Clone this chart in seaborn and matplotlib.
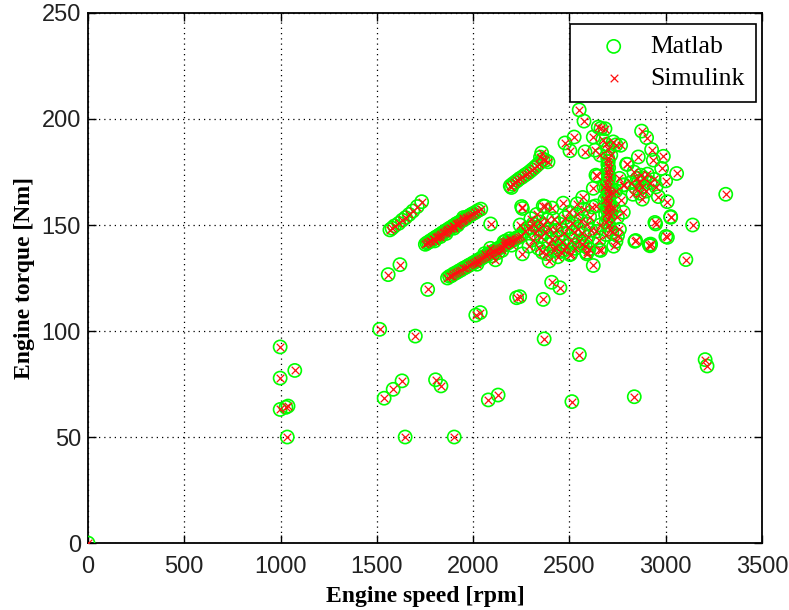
import numpy as np
import pandas as pd
import matplotlib
matplotlib.use("Agg")
import matplotlib.pyplot as plt
import seaborn as sns

# ---------------- data ----------------
# isolated / sparse operating points
sparse_speed = [0, 998, 998, 1074, 998, 1028, 1039, 1035, 1515, 1700, 1538, 1585,
                1631, 1647, 1805, 1833, 1902, 2014, 2037, 2079, 2130, 2369, 2513,
                2552, 2837, 3205, 3215, 1559, 1620, 1764, 2408, 2451, 2226, 2242,
                2364, 3312, 3105, 3140, 2919, 2091, 2116]
sparse_torque = [0, 92.5, 77.8, 81.4, 63.0, 64.0, 64.6, 50.0, 100.8, 97.6, 68.3, 72.5,
                 76.5, 50.0, 77.0, 74.1, 50.0, 107.5, 108.7, 67.5, 69.8, 96.3, 66.7,
                 88.9, 69.0, 86.5, 83.5, 126.6, 131.3, 119.6, 123.0, 120.4, 115.7, 116.2,
                 114.9, 164.5, 133.7, 150.0, 140.2, 150.5, 133.6]

# short streak around 1600 rpm
streak_a_speed = [1568, 1579, 1592, 1614, 1632, 1649, 1668, 1687, 1710, 1733]
streak_a_torque = [147.7, 148.5, 149.6, 150.8, 152.3, 153.5, 155.0, 156.6, 158.7, 161.0]

# dense streak 1750-2040 rpm
streak_b_speed = [1752, 1760, 1768, 1775, 1782, 1790, 1797, 1805, 1812, 1820, 1828, 1835,
                  1842, 1850, 1857, 1865, 1872, 1880, 1887, 1895, 1902, 1910, 1918, 1925,
                  1933, 1940, 1948, 1955, 1963, 1970, 1980, 1990, 2000, 2012, 2025, 2040,
                  1800, 1860, 1900, 1950, 1830, 1920]
streak_b_torque = [140.9, 141.5, 141.8, 142.4, 142.6, 143.3, 143.5, 144.2, 144.4, 145.0, 145.5, 145.7,
                   146.4, 146.6, 147.3, 147.5, 148.1, 148.6, 148.8, 149.5, 149.7, 150.4, 150.8, 151.0,
                   151.6, 152.0, 152.3, 152.9, 153.1, 153.8, 154.3, 154.9, 155.4, 156.0, 156.8, 157.5,
                   142.5, 146.0, 148.5, 153.5, 144.5, 150.0]

# dense streak 1870-2250 rpm
streak_c_speed = [1867, 1878, 1888, 1898, 1908, 1918, 1928, 1938, 1948, 1958, 1968, 1978,
                  1988, 1998, 2008, 2018, 2028, 2038, 2048, 2058, 2068, 2078, 2088, 2098,
                  2108, 2118, 2128, 2138, 2148, 2158, 2168, 2178, 2188, 2198, 2208, 2218,
                  2228, 2238, 2248, 2100, 2130, 2150, 2170, 2190, 2200, 2090, 2160, 2060, 2020]
streak_c_torque = [125.0, 125.8, 126.1, 126.9, 127.3, 127.8, 128.4, 128.8, 129.5, 129.9, 130.4, 131.0,
                   131.4, 132.0, 132.5, 133.0, 133.6, 134.0, 134.6, 135.1, 135.6, 136.2, 136.6, 137.3,
                   137.7, 138.2, 138.8, 139.3, 139.8, 140.4, 140.8, 141.4, 141.9, 142.5, 142.9, 143.5,
                   144.0, 144.4, 145.0, 135.5, 137.0, 138.0, 142.5, 143.5, 140.5, 139.0, 142.0, 136.5, 131.5]

# streak 2190-2390 rpm, 168-184 Nm
streak_d_speed = [2193, 2205, 2218, 2230, 2242, 2255, 2268, 2280, 2292, 2305, 2318, 2330,
                  2342, 2356, 2362, 2375, 2389, 2350, 2199]
streak_d_torque = [168.4, 169.3, 170.2, 171.0, 171.9, 172.6, 173.5, 174.2, 175.0, 176.0, 177.0, 178.0,
                   179.0, 184.0, 181.0, 180.5, 179.8, 182.0, 167.7]

# dense cloud 2240-2620 rpm, 133-160 Nm
cloud_speed = [2244, 2256, 2372, 2256, 2360, 2507, 2590, 2270, 2285, 2300, 2312, 2320,
               2335, 2345, 2355, 2362, 2375, 2385, 2392, 2400, 2410, 2418, 2425, 2432,
               2440, 2448, 2455, 2462, 2470, 2478, 2485, 2492, 2500, 2508, 2515, 2522,
               2530, 2538, 2545, 2552, 2560, 2568, 2575, 2582, 2590, 2598, 2605, 2612,
               2620, 2290, 2310, 2340, 2380, 2420, 2395, 2440, 2470, 2300, 2330, 2252,
               2364, 2468, 2410, 2540, 2503]
cloud_torque = [150.0, 157.8, 158.8, 136.4, 137.2, 136.4, 136.4, 147.0, 148.5, 149.0, 150.5, 146.0,
                148.0, 151.5, 144.5, 150.0, 146.5, 152.5, 141.0, 148.0, 143.5, 153.0, 139.5, 147.5,
                144.0, 150.5, 137.5, 142.0, 146.0, 153.5, 140.0, 149.0, 156.0, 143.0, 151.0, 146.5,
                139.0, 155.0, 148.0, 142.5, 152.0, 146.0, 157.5, 140.0, 150.5, 144.5, 154.0, 147.5,
                158.5, 140.0, 143.0, 139.0, 136.5, 138.0, 133.0, 135.0, 138.0, 153.0, 155.0, 158.7,
                159.0, 160.3, 158.0, 160.0, 136.0]

# vertical streak near 2700 rpm
streak_v_speed = [2699, 2702, 2700, 2704, 2698, 2702, 2706, 2700, 2696, 2703, 2700, 2706,
                  2698, 2702, 2708, 2700, 2695, 2703, 2710, 2700, 2692, 2705, 2711, 2688,
                  2715, 2685, 2720, 2680, 2690, 2720]
streak_v_torque = [181.6, 180.0, 178.5, 177.0, 175.5, 174.0, 172.5, 171.0, 169.5, 168.0, 166.5, 165.0,
                   163.5, 162.0, 160.5, 159.0, 157.5, 156.0, 154.5, 153.0, 151.5, 150.0, 148.0, 155.0,
                   158.0, 162.0, 165.0, 168.0, 145.5, 146.5]

# upper right scatter 2470-3070 rpm
upper_speed = [2551, 2576, 2650, 2685, 2664, 2624, 2673, 2728, 2766, 2742, 2581, 2633,
               2477, 2525, 2503, 2875, 2901, 2927, 2988, 2797, 2858, 2936, 2979, 3057,
               2638, 2624, 2569, 2780, 2866, 2962, 3008, 3026, 2944, 3001, 2840, 2915,
               2742, 2624, 2567, 2590, 2655, 2700, 2715, 2690, 2660]
upper_torque = [204.3, 199.0, 196.2, 195.4, 195.6, 191.5, 190.2, 189.2, 187.6, 187.8, 184.5, 185.3,
                188.7, 191.5, 185.0, 194.3, 191.2, 185.6, 182.4, 178.7, 182.1, 180.6, 176.7, 174.3,
                173.5, 167.3, 163.0, 168.8, 165.0, 163.4, 161.0, 154.0, 151.2, 144.6, 142.3, 140.7,
                142.3, 130.9, 141.2, 137.1, 138.4, 186.0, 183.0, 188.0, 183.0]

# medium cluster 2750-3050 rpm, 140-178 Nm
cluster_speed = [2801, 2784, 2853, 2870, 2890, 2905, 3000, 2879, 2766, 2749, 2637, 2645,
                 2820, 2835, 2845, 2860, 2875, 2900, 2920, 2940, 2950, 2830, 2760, 2740,
                 2730, 2660, 2640, 2760, 2780, 2654, 2602, 2662, 2844, 2922, 3009, 2948,
                 3026, 2750, 2730]
cluster_torque = [178.6, 169.0, 172.0, 173.5, 172.0, 174.0, 170.8, 162.2, 162.0, 153.6, 159.0, 173.0,
                  170.0, 175.0, 167.5, 170.5, 168.0, 166.0, 170.0, 171.5, 168.0, 164.5, 172.0, 166.0,
                  158.0, 150.0, 147.0, 148.0, 156.0, 142.7, 138.7, 138.0, 142.7, 141.0, 144.2, 150.5,
                  153.6, 145.0, 140.0]

groups = [(sparse_speed, sparse_torque), (streak_a_speed, streak_a_torque),
          (streak_b_speed, streak_b_torque), (streak_c_speed, streak_c_torque),
          (streak_d_speed, streak_d_torque), (cloud_speed, cloud_torque),
          (streak_v_speed, streak_v_torque), (upper_speed, upper_torque),
          (cluster_speed, cluster_torque)]

matlab = pd.DataFrame({
    "speed": np.concatenate([np.asarray(s, float) for s, _ in groups]),
    "torque": np.concatenate([np.asarray(t, float) for _, t in groups]),
})
simulink = matlab.copy()   # the Simulink result coincides with the Matlab one

x_ticks = [0, 500, 1000, 1500, 2000, 2500, 3000, 3500]
y_ticks = [0, 50, 100, 150, 200, 250]

# ---------------- styling ----------------
sns.set_theme(style="white")
plt.rcParams["font.family"] = ["Liberation Serif", "DejaVu Serif"]

fig = plt.figure(figsize=(7.89, 6.10), dpi=100)
ax = fig.add_axes([0.1115, 0.1098, 0.8542, 0.8689])

sns.scatterplot(data=matlab, x="speed", y="torque", ax=ax, marker="o", s=90,
                facecolor="none", edgecolor="#00ff00", linewidth=1.2,
                label="Matlab", zorder=3)
sns.scatterplot(data=simulink, x="speed", y="torque", ax=ax, marker="x", s=30,
                color="#ff1010", linewidth=0.9, label="Simulink", zorder=4)

ax.set_xlim(0, 3500)
ax.set_ylim(0, 250)
ax.set_xticks(x_ticks)
ax.set_yticks(y_ticks)
ax.set_xticklabels([str(v) for v in x_ticks])
ax.set_yticklabels([str(v) for v in y_ticks])
for lab in ax.get_xticklabels() + ax.get_yticklabels():
    lab.set_family(["Liberation Sans", "DejaVu Sans"])

ax.grid(True, color="black", linestyle=(0, (1, 3.2)), linewidth=0.9)
ax.set_axisbelow(True)
for sp in ax.spines.values():
    sp.set_color("black")
    sp.set_linewidth(1.3)
    sp.set_visible(True)

ax.tick_params(axis="both", which="major", direction="in", length=6, width=1.0,
               top=True, right=True, bottom=True, left=True, labelsize=17,
               colors="black", labelcolor="#222222", pad=5)
ax.tick_params(axis="x", pad=9)

ax.set_xlabel("Engine speed [rpm]", fontsize=17, fontweight="bold", labelpad=6,
              color="black")
ax.set_ylabel("Engine torque [Nm]", fontsize=17, fontweight="bold", labelpad=5,
              color="black")

leg = ax.legend(loc="upper right", bbox_to_anchor=(0.991, 0.980), borderaxespad=0,
                fontsize=18.5, frameon=True, fancybox=False, framealpha=1,
                edgecolor="black", handletextpad=0.15, borderpad=0.45,
                labelspacing=0.35, handlelength=2.52)
leg.get_frame().set_linewidth(1.2)
for t in leg.get_texts():
    t.set_color("black")

fig.savefig("out.png", dpi=100, facecolor="white")
